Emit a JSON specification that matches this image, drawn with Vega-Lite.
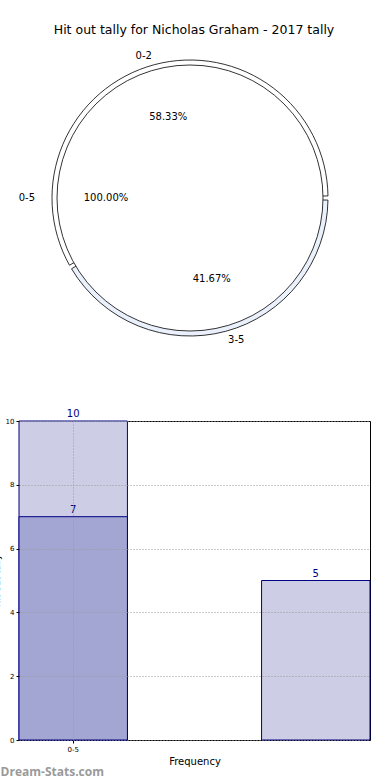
{
  "$schema": "https://vega.github.io/schema/vega-lite/v6.json",
  "padding": {"left": -9, "top": 23, "right": 0, "bottom": 0},
  "config": {"font": "DejaVu Sans", "view": {"stroke": null}},
  "title": {"text": "Dream-Stats.com", "orient": "bottom", "anchor": "start", "color": "#9a9a9a", "fontSize": 12, "fontWeight": "bold", "font": "Open Sans", "offset": 0, "dx": 9},
  "spacing": 62,
  "vconcat": [
    {
      "width": 342,
      "height": 296,
      "title": {"text": "Hit out tally for Nicholas Graham - 2017 tally", "fontSize": 12.5, "fontWeight": "normal", "offset": 14, "dx": 4},
      "resolve": {"scale": {"theta": "independent", "fill": "independent"}},
      "layer": [
        {
          "data": {"values": [{"range": "0-2", "count": 7, "pct": "58.33%"}, {"range": "3-5", "count": 5, "pct": "41.67%"}]},
          "mark": {"type": "arc", "radius": 138, "stroke": "black", "strokeWidth": 0.8, "padAngle": 0.03},
          "encoding": {
            "theta": {"field": "count", "type": "quantitative", "stack": true, "scale": {"range": [1.5708, 7.854]}},
            "order": {"field": "range", "sort": "descending"},
            "fill": {"field": "range", "type": "nominal", "scale": {"domain": ["0-2", "3-5"], "range": ["#ffffff", "#eaf0fc"]}, "legend": null}
          }
        },
        {
          "data": {"values": [{"range": "0-5", "count": 12, "pct": "100.00%"}]},
          "mark": {"type": "arc", "radius": 133, "stroke": "black", "strokeWidth": 0.8, "fill": "#ffffff"},
          "encoding": {
            "theta": {"field": "count", "type": "quantitative", "stack": true, "scale": {"range": [1.5708, 7.854]}}
          }
        },
        {
          "data": {"values": [{"range": "0-2", "count": 7, "pct": "58.33%"}, {"range": "3-5", "count": 5, "pct": "41.67%"}]},
          "mark": {"type": "text", "radius": 84, "fontSize": 10, "color": "black"},
          "encoding": {
            "theta": {"field": "count", "type": "quantitative", "stack": true, "scale": {"range": [1.5708, 7.854]}},
            "order": {"field": "range", "sort": "descending"},
            "text": {"field": "pct"}
          }
        },
        {
          "data": {"values": [{"range": "0-2", "count": 7, "pct": "58.33%"}, {"range": "3-5", "count": 5, "pct": "41.67%"}]},
          "transform": [{"filter": "datum.range == '0-2'"}],
          "mark": {"type": "text", "radius": 147, "fontSize": 10, "color": "black", "align": "right"},
          "encoding": {
            "theta": {"datum": 8.5, "type": "quantitative", "scale": {"domain": [0, 12], "range": [1.5708, 7.854]}},
            "text": {"field": "range"}
          }
        },
        {
          "data": {"values": [{"range": "0-2", "count": 7, "pct": "58.33%"}, {"range": "3-5", "count": 5, "pct": "41.67%"}]},
          "transform": [{"filter": "datum.range == '3-5'"}],
          "mark": {"type": "text", "radius": 147, "fontSize": 10, "color": "black", "align": "left"},
          "encoding": {
            "theta": {"datum": 2.5, "type": "quantitative", "scale": {"domain": [0, 12], "range": [1.5708, 7.854]}},
            "text": {"field": "range"}
          }
        },
        {
          "data": {"values": [{"range": "0-5", "count": 12, "pct": "100.00%"}]},
          "mark": {"type": "text", "radius": 84, "fontSize": 10, "color": "black"},
          "encoding": {
            "theta": {"field": "count", "type": "quantitative", "stack": true, "scale": {"range": [1.5708, 7.854]}},
            "text": {"field": "pct"}
          }
        },
        {
          "data": {"values": [{"range": "0-5", "count": 12, "pct": "100.00%"}]},
          "mark": {"type": "text", "radius": 155, "fontSize": 10, "color": "black", "align": "right"},
          "encoding": {
            "theta": {"field": "count", "type": "quantitative", "stack": true, "scale": {"range": [1.5708, 7.854]}},
            "text": {"field": "range"}
          }
        }
      ]
    },
    {
      "width": 351,
      "height": 319,
      "view": {"stroke": "black", "strokeWidth": 1},
      "data": {"values": [
        {"bin": "0-5", "series": "total", "tally": 10},
        {"bin": "0-5", "series": "part", "tally": 7},
        {"bin": "3-5", "series": "total", "tally": 5}
      ]},
      "encoding": {
        "x": {"field": "bin", "type": "nominal", "sort": null,
          "scale": {"paddingInner": 0.553, "paddingOuter": 0},
          "axis": {"values": ["0-5"], "title": "Frequency", "titleFontSize": 10, "titleFontWeight": "normal", "titlePadding": 4, "labelFontSize": 7, "labelAngle": 0, "labelPadding": 2, "tickSize": 3, "tickColor": "black", "domain": false, "grid": true, "gridDash": [1, 2], "gridColor": "#999999", "zindex": 1}},
        "y": {"field": "tally", "type": "quantitative", "stack": null,
          "scale": {"domain": [0, 10]},
          "axis": {"values": [0, 2, 4, 6, 8, 10], "title": "Hit out tally", "titleFontSize": 9, "titleFontWeight": "normal", "labelFontSize": 7, "labelPadding": 2, "tickSize": 3, "tickColor": "black", "domain": false, "grid": true, "gridDash": [1, 2], "gridColor": "#999999", "zindex": 1}}
      },
      "layer": [
        {
          "mark": {"type": "bar", "stroke": "#000080", "strokeWidth": 1},
          "encoding": {
            "fill": {"field": "series", "type": "nominal", "scale": {"domain": ["total", "part"], "range": ["#cdcde6", "#a3a5d2"]}, "legend": null}
          }
        },
        {
          "mark": {"type": "text", "baseline": "bottom", "dy": -2, "fontSize": 10, "color": "#000080"},
          "encoding": {"text": {"field": "tally"}}
        }
      ]
    }
  ]
}
